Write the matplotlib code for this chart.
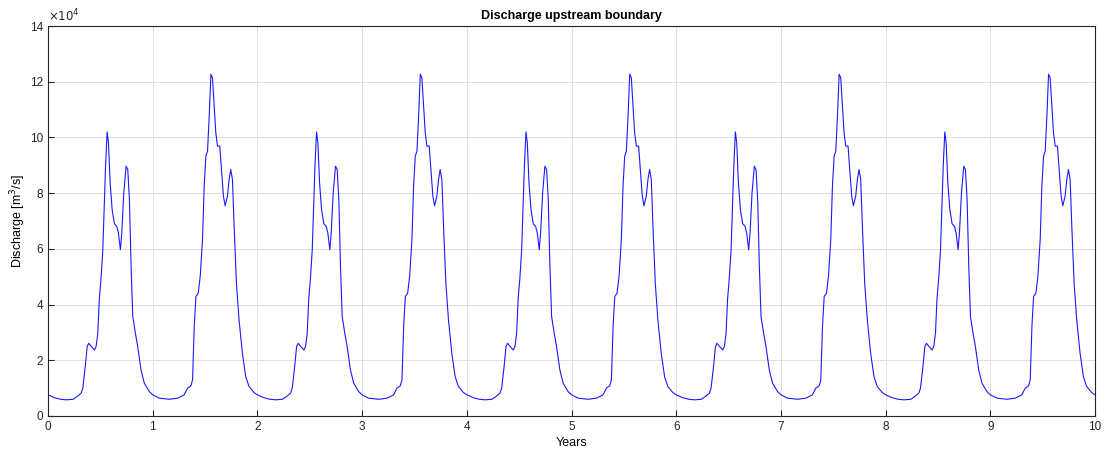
import numpy as np
import matplotlib.pyplot as plt

plt.rcParams['font.family'] = ['Liberation Sans', 'DejaVu Sans']

# time within year (fraction) and discharge [1e4 m3/s]
# "A" years: 0-1, 2-3, 4-5, 6-7, 8-9
year_a_t = [0.0, 0.06, 0.12, 0.175, 0.24, 0.286, 0.317, 0.333, 0.356, 0.375, 0.39,
            0.413, 0.444, 0.46, 0.476, 0.49, 0.508, 0.524, 0.54, 0.55, 0.565,
            0.578, 0.594, 0.613, 0.635, 0.657, 0.673, 0.692, 0.705, 0.724, 0.746,
            0.762, 0.778, 0.794, 0.81, 0.835, 0.857, 0.889, 0.92, 0.968]
year_a_q = [0.76, 0.66, 0.6, 0.58, 0.6, 0.72, 0.82, 1.0, 1.77, 2.5, 2.61,
            2.5, 2.37, 2.5, 2.97, 4.17, 5.0, 5.97, 7.77, 8.97, 10.2,
            9.8, 8.37, 7.41, 6.9, 6.81, 6.57, 5.97, 6.57, 8.0, 8.97,
            8.85, 7.77, 5.37, 3.57, 2.97, 2.5, 1.65, 1.18, 0.875]

# "B" years: 1-2, 3-4, 5-6, 7-8, 9-10
year_b_t = [0.0, 0.063, 0.159, 0.238, 0.30, 0.333, 0.365, 0.381, 0.397, 0.413,
            0.435, 0.454, 0.476, 0.492, 0.508, 0.524, 0.54, 0.556, 0.571, 0.587,
            0.603, 0.619, 0.641, 0.66, 0.676, 0.692, 0.714, 0.73, 0.746, 0.762,
            0.778, 0.80, 0.825, 0.857, 0.889, 0.92, 0.968]
year_b_q = [0.76, 0.64, 0.6, 0.64, 0.755, 1.0, 1.08, 1.3, 3.21, 4.29,
            4.41, 5.01, 6.33, 8.25, 9.33, 9.51, 10.77, 12.27, 12.15, 11.13,
            10.17, 9.69, 9.69, 8.73, 7.89, 7.55, 7.89, 8.49, 8.85, 8.49,
            6.81, 4.77, 3.45, 2.25, 1.41, 1.06, 0.84]

n_years = 10
t_all = []
q_all = []
for yr in range(n_years):
    if yr % 2 == 0:
        tt, qq = year_a_t, year_a_q
    else:
        tt, qq = year_b_t, year_b_q
    t_all += [yr + x for x in tt]
    q_all += [v * 1e4 for v in qq]
t_all.append(n_years)
q_all.append(year_a_q[0] * 1e4)

fig = plt.figure(figsize=(11.05, 4.5), dpi=100)
ax = fig.add_axes([0.0434, 0.0756, 0.9476, 0.8664])
ax.plot(t_all, q_all, color='#1a1aff', linewidth=0.8)

ax.set_xlim(0, 10)
ax.set_ylim(0, 14e4)
ax.set_xticks(range(0, 11))
yt = np.arange(0, 15, 2)
ax.set_yticks(yt * 1e4)
ax.set_yticklabels([str(v) for v in yt])
ax.text(0.0, 1.005, r'$\times10^4$', transform=ax.transAxes, fontsize=8.5,
        color='#262626', ha='left', va='bottom')

ax.grid(True, color='#dfdfdf', linewidth=0.7)
ax.set_axisbelow(True)
ax.tick_params(direction='in', length=4, labelsize=8.5, colors='#262626')
for s in ax.spines.values():
    s.set_color('#262626')
    s.set_linewidth(0.8)

ax.set_title('Discharge upstream boundary', fontsize=9, fontweight='bold', pad=5)
ax.set_xlabel('Years', fontsize=9, labelpad=3)
ax.set_ylabel('Discharge [m$^3$/s]', fontsize=9, labelpad=1)

fig.savefig('out.png', dpi=100)
